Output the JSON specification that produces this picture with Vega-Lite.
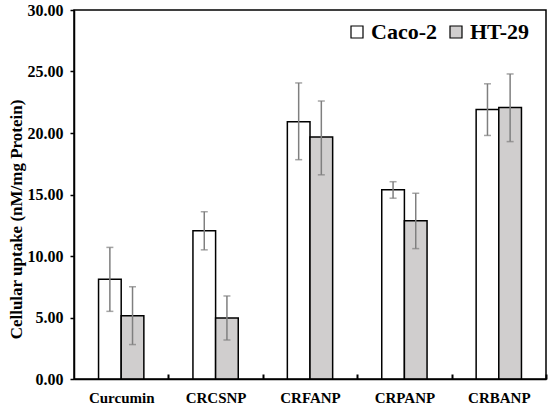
{
  "$schema": "https://vega.github.io/schema/vega-lite/v6.json",
  "autosize": {"type": "none"},
  "padding": {"left": 74, "top": 10, "right": 4, "bottom": 33},
  "width": 472,
  "height": 369,
  "background": "white",
  "config": {
    "view": {"stroke": "black", "strokeWidth": 1.5},
    "font": "Liberation Serif",
    "legend": {"labelFont": "Liberation Serif, serif", "labelFontWeight": "bold"}
  },
  "data": {
    "values": [
      {"sample": "Curcumin", "cell": "Caco-2", "uptake": 8.1, "lo": 5.5, "hi": 10.7},
      {"sample": "Curcumin", "cell": "HT-29", "uptake": 5.15, "lo": 2.8, "hi": 7.5},
      {"sample": "CRCSNP", "cell": "Caco-2", "uptake": 12.05, "lo": 10.5, "hi": 13.6},
      {"sample": "CRCSNP", "cell": "HT-29", "uptake": 4.96, "lo": 3.17, "hi": 6.75},
      {"sample": "CRFANP", "cell": "Caco-2", "uptake": 20.92, "lo": 17.83, "hi": 24.07},
      {"sample": "CRFANP", "cell": "HT-29", "uptake": 19.67, "lo": 16.6, "hi": 22.6},
      {"sample": "CRPANP", "cell": "Caco-2", "uptake": 15.39, "lo": 14.7, "hi": 16.04},
      {"sample": "CRPANP", "cell": "HT-29", "uptake": 12.87, "lo": 10.6, "hi": 15.1},
      {"sample": "CRBANP", "cell": "Caco-2", "uptake": 21.92, "lo": 19.8, "hi": 24.0},
      {"sample": "CRBANP", "cell": "HT-29", "uptake": 22.08, "lo": 19.3, "hi": 24.8}
    ]
  },
  "encoding": {
    "x": {
      "field": "sample", "type": "nominal", "sort": null, "title": null,
      "scale": {"paddingInner": 0.52, "paddingOuter": 0.26},
      "axis": {
        "labelAngle": 0, "labelFont": "Liberation Serif", "labelFontWeight": "bold",
        "labelFontSize": 15, "labelColor": "black", "labelPadding": 16,
        "labelOffset": -47.2, "tickOffset": 47.2,
        "ticks": true, "tickSize": -5, "tickColor": "black", "tickWidth": 2,
        "domainColor": "black", "domainWidth": 1.5, "zindex": 1
      }
    },
    "xOffset": {"field": "cell", "type": "nominal", "scale": {"paddingInner": 0, "paddingOuter": 0}}
  },
  "layer": [
    {
      "mark": {"type": "bar", "stroke": "black", "strokeWidth": 1.5},
      "encoding": {
        "y": {
          "field": "uptake", "type": "quantitative",
          "title": "Cellular uptake (nM/mg Protein)",
          "scale": {"domain": [0, 30], "nice": false},
          "axis": {
            "values": [0, 5, 10, 15, 20, 25, 30], "format": ".2f", "grid": false,
            "labelFont": "Liberation Serif", "labelFontWeight": "bold", "labelFontSize": 16,
            "labelColor": "black", "labelPadding": 7,
            "tickSize": 4, "tickColor": "black", "tickWidth": 1.5,
            "domainColor": "black", "domainWidth": 1.5,
            "titleFont": "Liberation Serif", "titleFontWeight": "bold", "titleFontSize": 17,
            "titleColor": "black", "titleX": -58, "titleY": 209, "titleBaseline": "middle"
          }
        },
        "fill": {
          "field": "cell", "type": "nominal",
          "scale": {"domain": ["Caco-2", "HT-29"], "range": ["white", "#d0cece"]},
          "legend": {
            "title": null, "orient": "none", "direction": "horizontal",
            "legendX": 272, "legendY": 11, "padding": 0,
            "symbolType": "square", "symbolSize": 144, "symbolStrokeColor": "black",
            "symbolStrokeWidth": 1.2, "symbolOpacity": 1,
            "labelFont": "Liberation Serif, serif", "labelFontWeight": "bold", "labelFontSize": 22,
            "labelColor": "black", "labelOffset": 3, "columnPadding": 8
          }
        }
      }
    },
    {
      "mark": {"type": "rule", "color": "#7f7f7f", "strokeWidth": 1.5},
      "encoding": {
        "y": {"field": "lo", "type": "quantitative"},
        "y2": {"field": "hi"}
      }
    },
    {
      "mark": {"type": "tick", "color": "#7f7f7f", "size": 7, "thickness": 1.5},
      "encoding": {"y": {"field": "lo", "type": "quantitative"}}
    },
    {
      "mark": {"type": "tick", "color": "#7f7f7f", "size": 7, "thickness": 1.5},
      "encoding": {"y": {"field": "hi", "type": "quantitative"}}
    }
  ]
}
